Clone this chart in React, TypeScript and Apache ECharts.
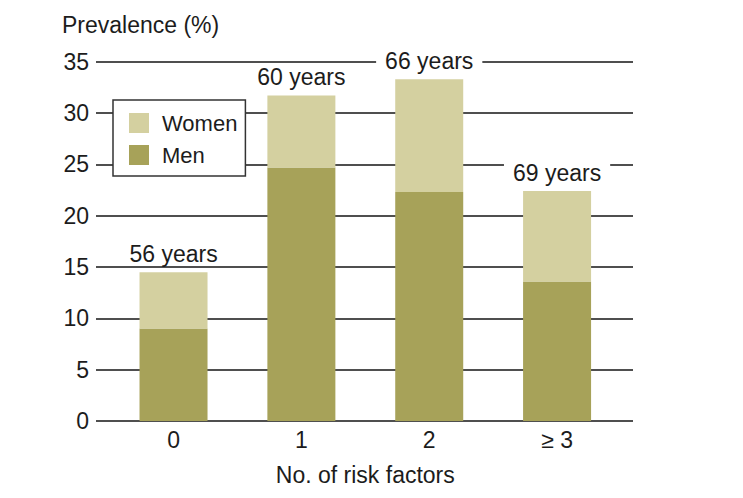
import React, { useEffect, useRef } from "react";
import * as echarts from "echarts";

const categories = ["0", "1", "2", "\u2265 3"];
const menValues = [9.0, 24.7, 22.3, 13.6];
const womenValues = [5.5, 7.0, 11.0, 8.8];
const ageLabels = ["56 years", "60 years", "66 years", "69 years"];

const FONT = "'Liberation Sans', Arial, Helvetica, sans-serif";
const TEXT = "#1c1c1c";

export default function App() {
  const ref = useRef<HTMLDivElement>(null);
  useEffect(() => {
    if (!ref.current) return;
    const chart = echarts.init(ref.current, undefined, { renderer: "svg" });
    chart.setOption({
      animation: false,
      textStyle: { fontFamily: FONT },
      title: {
        text: "Prevalence (%)",
        left: 62,
        top: 13,
        padding: 0,
        textStyle: { fontFamily: FONT, fontSize: 23, fontWeight: "normal", color: TEXT },
      },
      legend: {
        data: ["Women", "Men"],
        orient: "vertical",
        left: 113,
        top: 100,
        itemWidth: 20,
        itemHeight: 20,
        itemGap: 10,
        padding: [12, 8, 10, 16],
        backgroundColor: "#ffffff",
        borderColor: "#333333",
        borderWidth: 1.5,
        borderRadius: 0,
        icon: "rect",
        textStyle: { fontFamily: FONT, fontSize: 22, color: TEXT, padding: [0, 0, 0, 8] },
      },
      grid: [
        { left: 109.6, right: 122, top: 61.7, bottom: 77, containLabel: false },
        { left: 96, right: 110, top: 61.7, bottom: 77, containLabel: false },
      ],
      xAxis: [
        {
          type: "category",
          gridIndex: 0,
          data: categories,
          axisLine: { show: false },
          axisTick: { show: false },
          axisLabel: { fontFamily: FONT, fontSize: 23, color: TEXT, margin: 7 },
          name: "No. of risk factors",
          nameLocation: "middle",
          nameGap: 42,
          nameTextStyle: { fontFamily: FONT, fontSize: 23, color: TEXT },
        },
        {
          type: "value",
          gridIndex: 1,
          show: false,
          min: 0,
          max: 1,
        },
      ],
      yAxis: [
        {
          type: "value",
          gridIndex: 0,
          min: 0,
          max: 35,
          interval: 5,
          show: false,
          splitLine: { show: false },
        },
        {
          type: "value",
          gridIndex: 1,
          min: 0,
          max: 35,
          interval: 5,
          axisLine: { show: false },
          axisTick: { show: false },
          splitLine: { show: true, lineStyle: { color: "#4f4f4f", width: 2 } },
          axisLabel: { fontFamily: FONT, fontSize: 23, color: TEXT, margin: 7 },
        },
      ],
      series: [
        {
          name: "Men",
          type: "bar",
          stack: "total",
          xAxisIndex: 0,
          yAxisIndex: 0,
          barWidth: 68,
          itemStyle: { color: "#a7a259" },
          data: menValues,
        },
        {
          name: "Women",
          type: "bar",
          stack: "total",
          xAxisIndex: 0,
          yAxisIndex: 0,
          barWidth: 68,
          itemStyle: { color: "#d4d0a0" },
          data: womenValues,
          label: {
            show: true,
            position: "top",
            distance: 7,
            formatter: (p: any) => ageLabels[p.dataIndex],
            fontFamily: FONT,
            fontSize: 23,
            color: TEXT,
            backgroundColor: "#ffffff",
            padding: [0, 9],
          },
        },
      ],
    });
    return () => chart.dispose();
  }, []);
  return (
    <div
      ref={ref}
      style={{ position: "fixed", left: 0, top: 0, width: 743, height: 498, background: "#fff" }}
    />
  );
}
